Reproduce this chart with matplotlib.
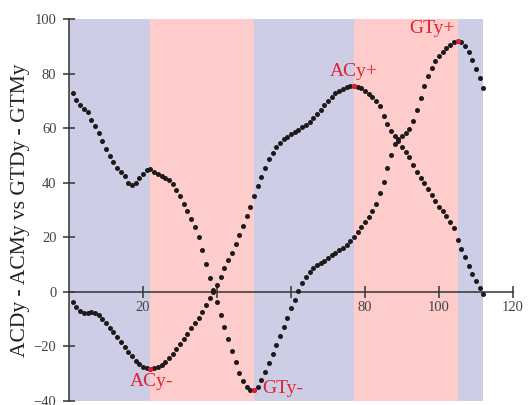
import matplotlib.pyplot as plt
import numpy as np

# sample index (x) and the two difference series
frame = np.arange(1, 113)

ac_diff = [-3.9, -5.8, -7.0, -7.9, -7.7, -7.4, -7.8, -8.7, -10.2, -11.6,
           -13.2, -14.8, -16.5, -18.4, -20.3, -22.1, -23.7, -25.3, -26.5, -27.5,
           -28.1, -28.4, -28.1, -27.6, -26.8, -25.7, -24.4, -22.9, -21.2, -19.4,
           -17.5, -15.5, -13.5, -11.5, -9.7, -7.5, -5.0, -2.5, 0.0, 2.5,
           5.5, 8.5, 11.5, 14.3, 17.3, 20.6, 24.0, 27.6, 31.2, 35.0,
           38.8, 42.0, 45.5, 48.5, 51.0, 53.0, 54.5, 55.8, 56.8, 57.7,
           58.6, 59.3, 60.2, 61.0, 62.2, 63.5, 65.0, 66.7, 68.4, 70.0,
           71.4, 72.7, 73.7, 74.4, 75.0, 75.5, 75.6, 75.1, 74.6, 73.7,
           72.6, 71.4, 70.0, 68.0, 64.5, 61.5, 59.0, 57.2, 55.3, 53.2,
           51.2, 49.2, 46.6, 44.0, 41.7, 39.8, 37.6, 35.4, 33.2, 31.2,
           29.6, 27.8, 25.5, 23.2, 19.0, 15.5, 12.6, 9.4, 6.6, 3.9,
           1.2, -1.0]

gt_diff = [72.7, 70.2, 68.4, 66.9, 65.7, 63.1, 60.7, 58.0, 55.1, 52.2,
           49.7, 47.5, 45.5, 43.9, 42.3, 40.0, 39.2, 39.8, 41.8, 43.0,
           44.5, 44.9, 43.9, 43.0, 42.4, 41.8, 40.8, 39.6, 37.4, 35.0,
           32.2, 29.4, 26.7, 23.6, 20.0, 15.3, 10.2, 4.9, 0.4, -4.0,
           -8.5, -13.0, -17.4, -21.7, -26.0, -29.8, -32.7, -35.0, -36.0, -36.2,
           -35.0, -32.5, -29.5, -26.3, -23.0, -19.7, -16.4, -13.0, -9.6, -6.2,
           -3.0, 0.2, 3.0, 5.5, 7.3, 8.6, 9.6, 10.5, 11.3, 12.2,
           13.3, 14.2, 15.1, 16.1, 17.2, 18.5, 20.0, 22.0, 23.6, 25.5,
           27.4, 29.5, 32.0, 36.0, 40.2, 45.5, 50.0, 54.0, 55.8, 57.0,
           58.2, 59.5, 62.5, 66.5, 71.0, 75.5, 79.2, 82.2, 84.5, 86.5,
           88.0, 89.4, 90.6, 91.5, 92.0, 91.5, 90.0, 87.8, 84.8, 81.8,
           78.5, 74.8]

x_ticks = [20, 40, 60, 80, 100, 120]
x_tick_labels = ["20", "", "", "80", "100", "120"]
y_ticks = [-40, -20, 0, 20, 40, 60, 80, 100]

ac = np.array(ac_diff)
gt = np.array(gt_diff)

# turning points that split the phases
i_ac_min, i_ac_max = ac.argmin(), ac.argmax()
i_gt_min, i_gt_max = gt.argmin(), gt.argmax()

blue = "#cdcde6"
pink = "#ffcccc"
red = "#e3202e"
dot = "#1e1a1a"

plt.rcParams["font.family"] = ["Liberation Serif", "DejaVu Serif"]

fig = plt.figure(figsize=(5.28, 4.05), dpi=100)
ax = fig.add_axes([69 / 528, 4.4 / 405, 444 / 528, 381.6 / 405])

bounds = [0, frame[i_ac_min], frame[i_gt_min], frame[i_ac_max], frame[i_gt_max], frame[-1]]
colors = [blue, pink, blue, pink, blue]
for a, b, c in zip(bounds[:-1], bounds[1:], colors):
    ax.axvspan(a, b, color=c, lw=0, zorder=0)

ax.plot(frame, ac, "o", ms=3.6, color=dot, mec="none", zorder=3)
ax.plot(frame, gt, "o", ms=3.6, color=dot, mec="none", zorder=3)

for i, arr in [(i_ac_min, ac), (i_ac_max, ac), (i_gt_min, gt), (i_gt_max, gt)]:
    ax.plot(frame[i], arr[i], "o", ms=3.6, color=red, mec="none", zorder=4)

kw = dict(textcoords="offset points", color=red, fontsize=14, va="center")
ax.annotate("ACy-", (frame[i_ac_min], ac[i_ac_min]), xytext=(1, -9), ha="center", **kw)
ax.annotate("GTy-", (frame[i_gt_min], gt[i_gt_min]), xytext=(6, 1), ha="left", **kw)
ax.annotate("ACy+", (frame[i_ac_max], ac[i_ac_max]), xytext=(0, 10), ha="center", **kw)
ax.annotate("GTy+", (frame[i_gt_max], gt[i_gt_max]), xytext=(-2, 9), ha="right", **kw)

ax.set_xlim(0, 120)
ax.set_ylim(-40, 100)
ax.spines["top"].set_visible(False)
ax.spines["right"].set_visible(False)
ax.spines["bottom"].set_position(("data", 0))
for s in ["left", "bottom"]:
    ax.spines[s].set_color("#333333")
    ax.spines[s].set_linewidth(1.1)
    ax.spines[s].set_zorder(2)

ax.set_xticks(x_ticks)
ax.set_xticklabels(x_tick_labels)
ax.set_yticks(y_ticks)
ax.tick_params(direction="inout", length=8, width=1.1, color="#333333",
               labelcolor="#444444", labelsize=10.5)
ax.tick_params(axis="x", pad=3)
ax.tick_params(axis="y", pad=5)
ax.set_facecolor("white")

ax.set_ylabel("ACDy - ACMy vs GTDy - GTMy", fontsize=15.5, color="#222222", labelpad=3)

fig.savefig("out.png", dpi=100)
